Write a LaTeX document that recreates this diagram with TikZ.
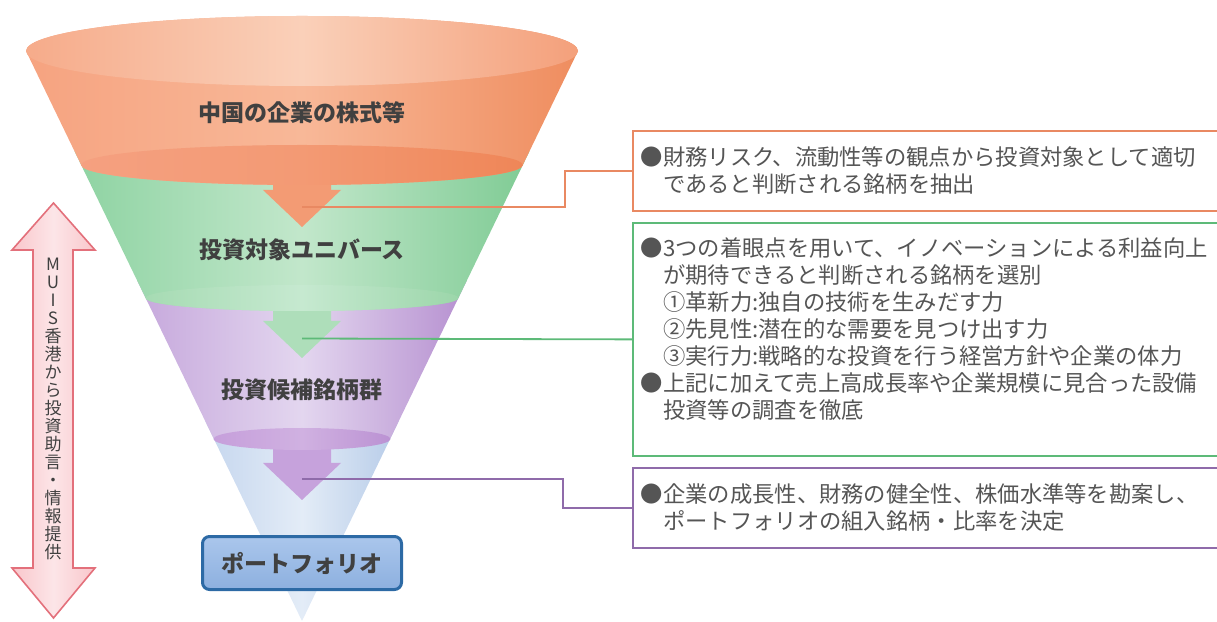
\documentclass[tikz,border=0pt]{standalone}
\usepackage{fontspec}
\setmainfont{Noto Sans CJK JP}
\usetikzlibrary{positioning}
% funnel colours
\definecolor{topL}{HTML}{F6AB8A}
\definecolor{topM}{HTML}{FAD0B9}
\definecolor{topR}{HTML}{F4A07B}
\definecolor{orL}{HTML}{F6A380}
\definecolor{orM}{HTML}{F8B898}
\definecolor{orR}{HTML}{EF8D5F}
\definecolor{orDkL}{HTML}{F5A080}
\definecolor{orDkM}{HTML}{F39A74}
\definecolor{orDkR}{HTML}{EF8658}
\definecolor{orArr}{HTML}{F39B74}
\definecolor{grL}{HTML}{8ED3A2}
\definecolor{grM}{HTML}{C2E7CB}
\definecolor{grR}{HTML}{7FCB94}
\definecolor{grLtL}{HTML}{A6DBB3}
\definecolor{grLtM}{HTML}{C6E9D0}
\definecolor{grLtR}{HTML}{9CD6AA}
\definecolor{grArr}{HTML}{AEDEBA}
\definecolor{puL}{HTML}{C6A8DC}
\definecolor{puM}{HTML}{E3D6EF}
\definecolor{puR}{HTML}{B690D0}
\definecolor{puDkL}{HTML}{C69FDB}
\definecolor{puDkM}{HTML}{D0B1E1}
\definecolor{puDkR}{HTML}{BB92D3}
\definecolor{puArr}{HTML}{C6A2DC}
\definecolor{blL}{HTML}{C5D6EE}
\definecolor{blM}{HTML}{E3ECF7}
\definecolor{blR}{HTML}{B6CBE8}
% lines, boxes, texts
\definecolor{orLine}{HTML}{E98962}
\definecolor{grLine}{HTML}{5DBA78}
\definecolor{puLine}{HTML}{8F6BAA}
\definecolor{pfTop}{HTML}{AAC6EC}
\definecolor{pfBot}{HTML}{8DB0DF}
\definecolor{pfEdge}{HTML}{2D6AA5}
\definecolor{pinkFill}{HTML}{F9C6CB}
\definecolor{pinkEdge}{HTML}{E3707B}
\definecolor{labGray}{HTML}{404040}
\definecolor{boxGray}{HTML}{555555}
\newcommand{\bulind}{\phantom{●}}
\tikzset{
  bandlabel/.style={font=\fontsize{23}{23}\selectfont\bfseries,text=labGray},
  infobox/.style={draw=#1,line width=1.8pt,fill=white,anchor=north west,
    text width=640pt,align=left,inner xsep=8pt,inner ysep=0pt,
    font=\fontsize{22.3}{27}\selectfont,text=boxGray},
  linkline/.style={draw=#1,line width=1.8pt},
}
\begin{document}
\begin{tikzpicture}[x=1pt,y=1pt]
  \useasboundingbox (0,0) rectangle (1217,621);
  \clip (0,0) rectangle (1217,621);
  % funnel, lowest band first
  \shade[left color=blL,right color=blR,middle color=blM] (205.2,200)--(302,0)--(398.8,200)--cycle;
  \fill[puArr] (302,121)--++(-39,37)--++(10,0)--++(0,25)--++(58,0)--++(0,-25)--++(10,0)--cycle;
  \shade[left color=puL,right color=puR,middle color=puM] (137.4,340)--(213.4,183)
    arc[start angle=180,end angle=360,x radius=88.6,y radius=10]--(466.6,340)--cycle;
  \shade[left color=puDkL,right color=puDkR,middle color=puDkM] (302,182) ellipse[x radius=88.6,y radius=11];
  \fill[grArr] (302,263)--++(-39,37)--++(10,0)--++(0,25)--++(58,0)--++(0,-25)--++(10,0)--cycle;
  \shade[left color=grL,right color=grR,middle color=grM] (74.4,470)--(145.6,323)
    arc[start angle=180,end angle=360,x radius=156.4,y radius=13]--(529.6,470)--cycle;
  \shade[left color=grLtL,right color=grLtR,middle color=grLtM] (302,323) ellipse[x radius=156.4,y radius=13];
  \fill[orArr] (302,394)--++(-39,37)--++(10,0)--++(0,25)--++(58,0)--++(0,-25)--++(10,0)--cycle;
  \shade[left color=orL,right color=orR,middle color=orM] (26,570)--(81.2,456)
    arc[start angle=180,end angle=360,x radius=220.8,y radius=20]--(578,570)
    arc[start angle=0,end angle=180,x radius=276,y radius=35]--cycle;
  \shade[left color=orDkL,right color=orDkR,middle color=orDkM] (302,456) ellipse[x radius=220.8,y radius=20];
  \shade[left color=topL,right color=topR,middle color=topM] (302,570) ellipse[x radius=276,y radius=35];
  % band labels
  \node[bandlabel] (stocks) at (302,508) {中国の企業の株式等};
  \node[bandlabel] (universe) at (302,371) {投資対象ユニバース};
  \node[bandlabel] (candidates) at (302,231) {投資候補銘柄群};
  \node[bandlabel,draw=pfEdge,line width=3pt,rounded corners=7pt,top color=pfTop,bottom color=pfBot,
    minimum width=199pt,minimum height=53pt] (portfolio) at (302,58) {ポートフォリオ};
  % advice arrow
  \draw[pinkEdge,line width=1.6pt,left color=pinkFill,right color=pinkFill,middle color=pinkFill!45]
    (53.5,418)--(95,371)--(73,371)--(73,53)--(95,53)--(53.5,3)--(12,53)--(33,53)--(33,371)--(12,371)--cycle;
  \node[font=\fontsize{17}{18}\selectfont,text=labGray,align=center] (advice) at (53,212)
    {M\\U\\I\\S\\香\\港\\か\\ら\\投\\資\\助\\言\\・\\情\\報\\提\\供};
  % boxes
  \node[infobox=orLine,minimum height=80pt] (screen) at (632,491)
    {●財務リスク、流動性等の観点から投資対象として適切\\
     \bulind であると判断される銘柄を抽出};
  \node[infobox=grLine,minimum height=233pt] (select) at (632,399)
    {●3つの着眼点を用いて、イノベーションによる利益向上\\
     \bulind が期待できると判断される銘柄を選別\\
     \bulind ①革新力:独自の技術を生みだす力\\
     \bulind ②先見性:潜在的な需要を見つけ出す力\\
     \bulind ③実行力:戦略的な投資を行う経営方針や企業の体力\\
     ●上記に加えて売上高成長率や企業規模に見合った設備\\
     \bulind 投資等の調査を徹底\rule[-22pt]{0pt}{0pt}};
  \node[infobox=puLine,minimum height=80pt] (decide) at (632,154)
    {●企業の成長性、財務の健全性、株価水準等を勘案し、\\
     \bulind ポートフォリオの組入銘柄・比率を決定};
  % links from the arrows
  \coordinate (orStart) at (302,414);
  \coordinate (grStart) at (302,282.5);
  \coordinate (puStart) at (302,142);
  \draw[linkline=orLine] (orStart)--++(263,0)|-(screen.west);
  \draw[linkline=grLine] (grStart)--(select.west);
  \draw[linkline=puLine] (puStart)--++(261,0)|-(decide.west);
\end{tikzpicture}
\end{document}
